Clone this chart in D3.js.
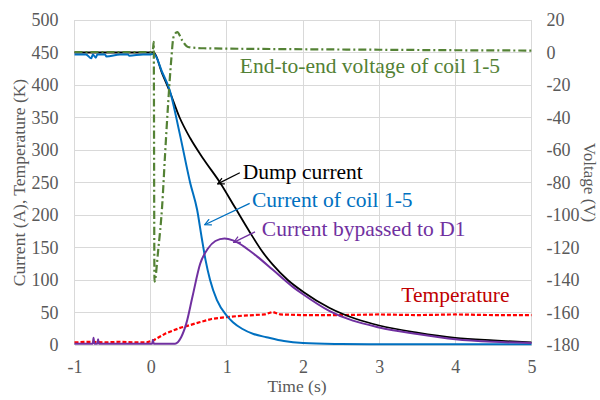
<!DOCTYPE html>
<html>
<head>
<meta charset="utf-8">
<script src="https://cdn.jsdelivr.net/npm/d3@7"></script>
<style>
  html, body { margin: 0; padding: 0; background: #fff; }
  svg text { font-family: "Liberation Serif", "DejaVu Serif", "Times New Roman", Times, serif; }
</style>
</head>
<body>
<svg id="chart" width="600" height="400"></svg>
<script>
// Time axis (s)
const timeTicks = [-1, 0, 1, 2, 3, 4, 5];
const currentTicks = [0, 50, 100, 150, 200, 250, 300, 350, 400, 450, 500];
const voltageTicks = [20, 0, -20, -40, -60, -80, -100, -120, -140, -160, -180];

// Dump current (A)
const dumpT = [-1, -0.5, 0, 0.04, 0.15, 0.25, 0.38, 0.52, 0.7, 0.91, 1.1, 1.3, 1.47, 1.6, 1.8, 2.0, 2.35, 2.7, 3.0, 3.5, 4.0, 4.5, 5.0];
const dumpI = [450, 450, 450, 450, 418, 390, 350, 318, 285, 250, 213, 174, 143, 124, 100, 82, 57, 40, 30, 19, 11, 7, 4];

// Current of coil 1-5 (A)
const coilT = [-1, -0.85, -0.78, -0.76, -0.72, -0.7, -0.6, -0.58, -0.4, -0.3, -0.28, -0.1, 0, 0.04, 0.15, 0.25, 0.38, 0.52, 0.61, 0.67, 0.72, 0.78, 0.87, 1.0, 1.08, 1.2, 1.35, 1.52, 1.75, 2.0, 2.5, 3.0, 4.0, 5.0];
const coilI = [447, 447, 441, 447, 442, 447, 447, 444, 447, 447, 445, 447, 447, 448, 420, 392, 326, 249, 208, 165, 131, 100, 69, 45, 35, 25, 17, 12, 6, 3, 1.5, 1, 1, 1];

// Current bypassed to D1 (A)
const diodeT = [-1, -0.76, -0.75, -0.74, -0.7, -0.69, -0.68, 0, 0.02, 0.03, 0.04, 0.32, 0.4, 0.47, 0.55, 0.65, 0.75, 0.85, 0.97, 1.08, 1.15, 1.3, 1.4, 1.6, 1.87, 2.0, 2.35, 3.0, 3.5, 4.0, 4.5, 5.0];
const diodeI = [2, 2, 11, 2, 2, 9, 2, 2, 2, 8, 2, 2, 12, 34, 75, 125, 148, 160, 164, 161, 157, 145, 136, 116, 89, 78, 52, 27, 17, 9, 5, 3];

// Temperature (K)
const tempT = [-1, -0.8, -0.6, -0.4, -0.2, -0.05, 0.05, 0.2, 0.4, 0.47, 0.64, 0.8, 1.0, 1.2, 1.5, 1.6, 1.7, 2.0, 2.5, 3.0, 3.5, 4.0, 4.5, 5.0];
const tempK = [4, 5, 4, 5, 4, 4, 8, 18, 27, 29, 35, 40, 43, 45, 47, 51, 47, 46, 46, 47, 46, 47, 46, 46];

// End-to-end voltage of coil 1-5 (V)
const voltT = [-1, -0.5, 0, 0.03, 0.04, 0.05, 0.1, 0.15, 0.19, 0.23, 0.27, 0.3, 0.35, 0.41, 0.49, 0.7, 1.0, 2.0, 3.0, 4.0, 5.0];
const voltV = [0.3, 0.3, 0.3, 2, 6.5, -141, -121, -95, -62, -31, -4.6, 9.5, 12.6, 7.7, 3.4, 2.6, 2.4, 2.0, 1.7, 1.4, 1.2];

const W = 600, H = 400;
const margin = { top: 20, right: 68.5, bottom: 55, left: 74.5 };
const serif = '"Liberation Serif", "DejaVu Serif", "Times New Roman", Times, serif';

const svg = d3.select("#chart");
svg.append("rect").attr("width", W).attr("height", H).attr("fill", "#fff");

const x = d3.scaleLinear().domain([-1, 5]).range([margin.left, W - margin.right]);
const yI = d3.scaleLinear().domain([0, 500]).range([H - margin.bottom, margin.top]);
const yV = d3.scaleLinear().domain([-180, 20]).range([H - margin.bottom, margin.top]);

const tickColor = "#595959";
const gridColor = "#d9d9d9";
const fmt = d => String(d);

// Gridlines
svg.append("g").selectAll("line").data(currentTicks).join("line")
  .attr("x1", x(-1)).attr("x2", x(5))
  .attr("y1", d => yI(d)).attr("y2", d => yI(d))
  .attr("stroke", gridColor).attr("stroke-width", 1).attr("shape-rendering", "crispEdges");
svg.append("g").selectAll("line").data(timeTicks).join("line")
  .attr("x1", d => x(d)).attr("x2", d => x(d))
  .attr("y1", yI(0)).attr("y2", yI(500))
  .attr("stroke", gridColor).attr("stroke-width", 1).attr("shape-rendering", "crispEdges");

// Axes
const styleAxis = g => {
  g.attr("font-family", serif);
  g.select(".domain").remove();
  g.selectAll(".tick line").remove();
  g.selectAll("text").attr("fill", tickColor).style("font-size", "18px").style("font-family", serif);
};
svg.append("g").attr("transform", `translate(0,${yI(0)})`)
  .call(d3.axisBottom(x).tickValues(timeTicks).tickFormat(fmt).tickSize(0).tickPadding(15))
  .call(styleAxis);
svg.append("g").attr("transform", `translate(${x(-1)},0)`)
  .call(d3.axisLeft(yI).tickValues(currentTicks).tickFormat(fmt).tickSize(0).tickPadding(16))
  .call(styleAxis);
svg.append("g").attr("transform", `translate(${x(5)},0)`)
  .call(d3.axisRight(yV).tickValues(voltageTicks).tickFormat(fmt).tickSize(0).tickPadding(15))
  .call(styleAxis);

// Axis titles
const title = (txt, size) => svg.append("text").attr("fill", tickColor)
  .style("font-size", size).style("font-family", serif).text(txt);
title("Current (A), Temperature (K)", "17.5px")
  .attr("transform", `translate(19,${(yI(0) + yI(500)) / 2}) rotate(-90)`)
  .attr("text-anchor", "middle").attr("dy", "0.35em");
title("Voltage (V)", "17px")
  .attr("transform", `translate(590,${(yI(0) + yI(500)) / 2}) rotate(90)`)
  .attr("text-anchor", "middle").attr("dy", "0.35em");
title("Time (s)", "17.5px")
  .attr("x", (x(-1) + x(5)) / 2 - 6).attr("y", 392).attr("text-anchor", "middle");

// Series
const lineI = d3.line().x(d => x(d[0])).y(d => yI(d[1])).curve(d3.curveMonotoneX);
const lineV = d3.line().x(d => x(d[0])).y(d => yV(d[1])).curve(d3.curveMonotoneX);
const zip = (a, b) => a.map((v, i) => [v, b[i]]);

svg.append("path").datum(zip(tempT, tempK)).attr("d", d3.line().x(d => x(d[0])).y(d => yI(d[1])))
  .attr("fill", "none").attr("stroke", "#ff0000").attr("stroke-width", 2.2).attr("stroke-dasharray", "4,2");
svg.append("path").datum(zip(dumpT, dumpI)).attr("d", lineI)
  .attr("fill", "none").attr("stroke", "#000").attr("stroke-width", 1.8);
svg.append("path").datum(zip(coilT, coilI)).attr("d", lineI)
  .attr("fill", "none").attr("stroke", "#0070c0").attr("stroke-width", 2);
svg.append("path").datum(zip(diodeT, diodeI)).attr("d", lineI)
  .attr("fill", "none").attr("stroke", "#7030a0").attr("stroke-width", 2);
svg.append("path").datum(zip(voltT, voltV)).attr("d", lineV)
  .attr("fill", "none").attr("stroke", "#548235").attr("stroke-width", 2.2).attr("stroke-dasharray", "8,3,2,3");

// Annotations (positions in data units: time, current)
const notes = [
  { text: "End-to-end voltage of coil 1-5", color: "#538135", t: 1.17, v: 418 },
  { text: "Dump current", color: "#000000", t: 1.21, v: 255, from: [1.17, 265], to: [0.88, 248] },
  { text: "Current of coil 1-5", color: "#0070c0", t: 1.33, v: 212, from: [1.30, 218], to: [0.71, 185] },
  { text: "Current bypassed to D1", color: "#7030a0", t: 1.46, v: 168, from: [1.37, 174], to: [1.09, 158] },
  { text: "Temperature", color: "#c00000", t: 3.29, v: 66 }
];
const defs = svg.append("defs");
notes.forEach((n, i) => {
  if (n.from) {
    defs.append("marker").attr("id", "arrow" + i).attr("viewBox", "0 0 10 10")
      .attr("refX", 9).attr("refY", 5).attr("markerWidth", 8).attr("markerHeight", 8)
      .attr("markerUnits", "userSpaceOnUse").attr("orient", "auto")
      .append("path").attr("d", "M1,1 L9,5 L1,9").attr("fill", "none").attr("stroke", n.color).attr("stroke-width", 1.5);
    svg.append("line")
      .attr("x1", x(n.from[0])).attr("y1", yI(n.from[1]))
      .attr("x2", x(n.to[0])).attr("y2", yI(n.to[1]))
      .attr("stroke", n.color).attr("stroke-width", 1.3).attr("marker-end", `url(#arrow${i})`);
  }
  svg.append("text").attr("x", x(n.t)).attr("y", yI(n.v))
    .attr("fill", n.color).style("font-size", "21.5px").style("font-family", serif).text(n.text);
});
</script>
</body>
</html>
